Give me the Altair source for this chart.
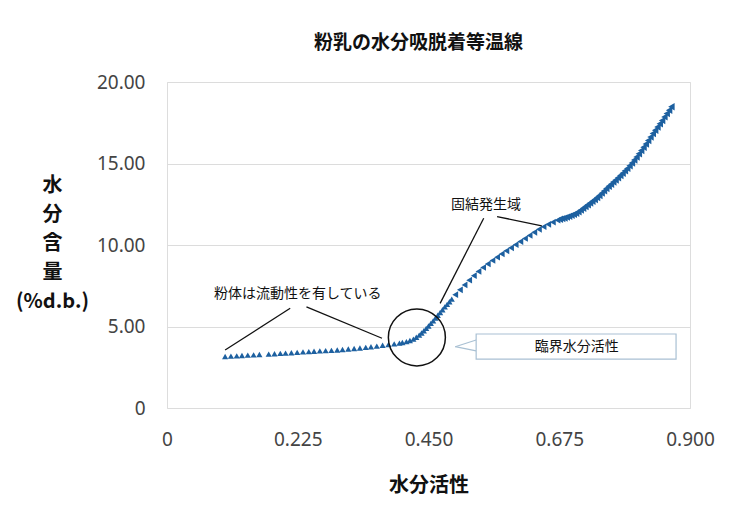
import altair as alt
import pandas as pd

# ---------------- text ----------------
chart_title = "粉乳の水分吸脱着等温線"
x_title = "水分活性"
y_title = ["水", "分", "含", "量", "(%d.b.)"]
x_ticks = [0, 0.225, 0.45, 0.675, 0.9]
y_ticks = [0, 5, 10, 15, 20]

# ---------------- data ----------------
low_aw = [0.100, 0.110, 0.120, 0.129, 0.139, 0.149, 0.159,
          0.175, 0.185, 0.195, 0.204, 0.214, 0.224, 0.234, 0.244, 0.253, 0.263,
          0.273, 0.283, 0.293, 0.302, 0.312, 0.322, 0.332, 0.342, 0.351, 0.361,
          0.371, 0.381, 0.391, 0.400]
low_mc = [3.16, 3.18, 3.20, 3.22, 3.24, 3.26, 3.28,
          3.31, 3.33, 3.35, 3.37, 3.39, 3.41, 3.44, 3.46, 3.48, 3.50,
          3.52, 3.54, 3.56, 3.59, 3.62, 3.65, 3.68, 3.72, 3.76, 3.80,
          3.85, 3.89, 3.93, 3.98]

trans_aw = [0.405, 0.412, 0.418, 0.424, 0.429, 0.434, 0.438, 0.442, 0.446, 0.450,
            0.454, 0.458, 0.462, 0.466, 0.470, 0.474, 0.478, 0.482, 0.486, 0.490]
trans_mc = [4.02, 4.07, 4.14, 4.23, 4.34, 4.47, 4.60, 4.74, 4.88, 5.03,
            5.19, 5.35, 5.52, 5.69, 5.86, 6.03, 6.20, 6.36, 6.52, 6.68]

mid_aw = [0.496, 0.504, 0.512, 0.520, 0.528, 0.536, 0.544, 0.552, 0.560, 0.568,
          0.576, 0.584, 0.592, 0.600, 0.608, 0.616, 0.624, 0.632, 0.640, 0.648,
          0.656, 0.664, 0.672]
mid_mc = [6.95, 7.25, 7.55, 7.84, 8.12, 8.38, 8.62, 8.84, 9.05, 9.25,
          9.45, 9.64, 9.83, 10.02, 10.21, 10.40, 10.59, 10.78, 10.96, 11.12,
          11.27, 11.40, 11.52]

high_aw = [0.676, 0.680, 0.684, 0.688, 0.692, 0.696, 0.700, 0.704, 0.708, 0.712,
           0.716, 0.720, 0.724, 0.728, 0.732, 0.736, 0.740, 0.744, 0.748, 0.752,
           0.756, 0.760, 0.764, 0.768, 0.772, 0.776, 0.780, 0.784, 0.788, 0.792,
           0.796, 0.800, 0.804, 0.808, 0.812, 0.816, 0.820, 0.824, 0.828, 0.832,
           0.836, 0.840, 0.844, 0.848, 0.852, 0.856, 0.860, 0.864, 0.868]
high_mc = [11.58, 11.62, 11.66, 11.71, 11.76, 11.82, 11.88, 11.95, 12.04, 12.14,
           12.25, 12.36, 12.47, 12.58, 12.68, 12.79, 12.91, 13.04, 13.18, 13.32,
           13.46, 13.60, 13.73, 13.86, 13.99, 14.12, 14.26, 14.40, 14.55, 14.70,
           14.86, 15.03, 15.21, 15.40, 15.60, 15.80, 16.00, 16.20, 16.41, 16.62,
           16.84, 17.04, 17.24, 17.44, 17.64, 17.86, 18.06, 18.27, 18.48]

# annotations (in data units)
note_texts = ["固結発生域", "粉体は流動性を有している"]
note_aw = [0.549, 0.225]
note_mc = [12.45, 7.00]

leader_aw = [0.545, 0.568, 0.212, 0.240]
leader_mc = [11.64, 11.74, 6.12, 6.21]
leader_aw2 = [0.470, 0.645, 0.100, 0.370]
leader_mc2 = [6.42, 11.18, 3.56, 4.28]

circle_aw = [0.430]
circle_mc = [4.33]

box_text = ["臨界水分活性"]
box_aw = [0.532]
box_aw2 = [0.876]
box_mc = [3.00]
box_mc2 = [4.54]
box_text_aw = [0.705]
box_text_mc = [3.75]
pointer_aw = [0.496, 0.496]
pointer_mc = [3.76, 3.76]
pointer_aw2 = [0.532, 0.532]
pointer_mc2 = [4.17, 3.50]

# ---------------- chart ----------------
JP = "Noto Sans CJK JP"
BLUE = "#1d60a0"

xs = alt.Scale(domain=[0, 0.9], nice=False, zero=True)
ys = alt.Scale(domain=[0, 20], nice=False)

up_df = pd.DataFrame({"aw": low_aw + trans_aw, "mc": low_mc + trans_mc})
mid_df = pd.DataFrame({"aw": mid_aw, "mc": mid_mc})
high_df = pd.DataFrame({"aw": high_aw, "mc": high_mc})

x_axis = alt.Axis(
    values=x_ticks, grid=False, ticks=False, domain=False,
    labelExpr="datum.value == 0 ? '0' : format(datum.value, '.3f')",
    labelFont="Noto Sans", labelFontSize=19, labelColor="#444",
    labelPadding=22, labelFlush=False, labelBound=False,
    title=x_title, titleFont=JP, titleFontSize=20, titleFontWeight="bold",
    titleColor="#111", titlePadding=26,
)
y_axis = alt.Axis(
    values=y_ticks, grid=True, gridColor="#dcdcdc", gridWidth=1.2,
    ticks=False, domain=False,
    labelExpr="datum.value == 0 ? '0' : format(datum.value, '.2f')",
    labelFont="Noto Sans", labelFontSize=19, labelColor="#444",
    labelPadding=22,
    title=y_title, titleFont=JP, titleFontSize=20, titleFontWeight="bold",
    titleColor="#111", titleAngle=0, titleAlign="center", titleBaseline="middle",
    titleLineHeight=29, titleX=-115, titleY=103,
)

up = alt.Chart(up_df).mark_point(
    shape="triangle-up", filled=True, size=38, color=BLUE, opacity=1
).encode(
    x=alt.X("aw:Q", scale=xs, axis=x_axis),
    y=alt.Y("mc:Q", scale=ys, axis=y_axis),
)
mid = alt.Chart(mid_df).mark_point(
    shape="triangle-left", filled=True, size=45, color=BLUE, opacity=1
).encode(x=alt.X("aw:Q", scale=xs), y=alt.Y("mc:Q", scale=ys))
high = alt.Chart(high_df).mark_point(
    shape="triangle-left", filled=True, size=55, color=BLUE, opacity=1
).encode(x=alt.X("aw:Q", scale=xs), y=alt.Y("mc:Q", scale=ys))

leaders = alt.Chart(pd.DataFrame({
    "x": leader_aw, "y": leader_mc, "x2": leader_aw2, "y2": leader_mc2})
).mark_rule(color="#111", strokeWidth=1.3).encode(
    x=alt.X("x:Q", scale=xs), y=alt.Y("y:Q", scale=ys), x2="x2:Q", y2="y2:Q")

notes = alt.Chart(pd.DataFrame({"t": note_texts, "x": note_aw, "y": note_mc})
).mark_text(font=JP, fontSize=14, color="#111", align="center", baseline="middle"
).encode(x=alt.X("x:Q", scale=xs), y=alt.Y("y:Q", scale=ys), text="t:N")

circle = alt.Chart(pd.DataFrame({"x": circle_aw, "y": circle_mc})).mark_point(
    shape="circle", size=3250, filled=False, stroke="#111", strokeWidth=1.5, opacity=1
).encode(x=alt.X("x:Q", scale=xs), y=alt.Y("y:Q", scale=ys))

pointer = alt.Chart(pd.DataFrame({
    "x": pointer_aw, "y": pointer_mc, "x2": pointer_aw2, "y2": pointer_mc2})
).mark_rule(color="#a9c0d3", strokeWidth=1.2).encode(
    x=alt.X("x:Q", scale=xs), y=alt.Y("y:Q", scale=ys), x2="x2:Q", y2="y2:Q")

box = alt.Chart(pd.DataFrame({"x": box_aw, "x2": box_aw2, "y": box_mc, "y2": box_mc2})
).mark_rect(fill="white", stroke="#a9c0d3", strokeWidth=1.2).encode(
    x=alt.X("x:Q", scale=xs), x2="x2:Q", y=alt.Y("y:Q", scale=ys), y2="y2:Q")

box_label = alt.Chart(pd.DataFrame({"t": box_text, "x": box_text_aw, "y": box_text_mc})
).mark_text(font=JP, fontSize=14, color="#111", align="center", baseline="middle"
).encode(x=alt.X("x:Q", scale=xs), y=alt.Y("y:Q", scale=ys), text="t:N")

chart = alt.layer(
    up, mid, high, leaders, notes, circle, pointer, box, box_label
).properties(
    width=523, height=326,
    title=alt.TitleParams(chart_title, font=JP, fontSize=19, fontWeight="bold",
                          color="#111", anchor="middle", offset=20, dx=-10),
    autosize=alt.AutoSizeParams(type="none"),
    padding={"left": 167, "top": 82, "right": 58, "bottom": 112},
).configure_view(
    stroke="#555", strokeWidth=1.5
).configure(background="white")

chart.save("out.html", embed_options={"renderer": "svg", "actions": False})
